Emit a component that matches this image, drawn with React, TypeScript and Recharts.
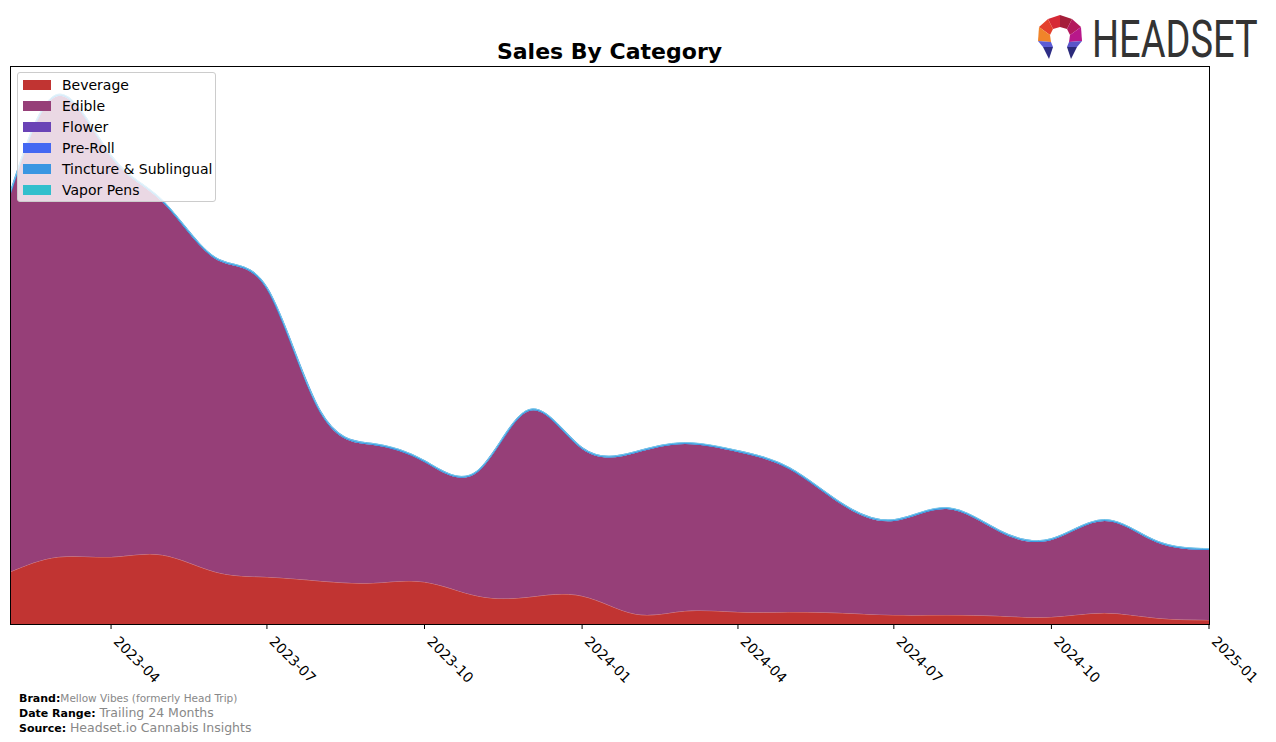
import React from 'react';
import { AreaChart, Area, XAxis, YAxis } from 'recharts';

// monthly points, first of each month
const months = [
  '2023-02', '2023-03', '2023-04', '2023-05', '2023-06', '2023-07',
  '2023-08', '2023-09', '2023-10', '2023-11', '2023-12', '2024-01',
  '2024-02', '2024-03', '2024-04', '2024-05', '2024-06', '2024-07',
  '2024-08', '2024-09', '2024-10', '2024-11', '2024-12', '2025-01',
];

const beverage = [
  5200, 6700, 6700, 6900, 5200, 4700, 4300, 4100, 4200, 2800, 2700, 2800,
  1000, 1300, 1200, 1200, 1100, 900, 900, 800, 700, 1100, 600, 400,
];
const edible = [
  37700, 46100, 40000, 35300, 31300, 28800, 16900, 13800, 12000, 12400, 18600, 14700,
  16100, 16700, 16000, 14300, 10800, 9400, 10600, 8400, 7700, 9200, 7600, 7000,
];
const tincture = [
  120, 120, 110, 110, 100, 100, 100, 100, 90, 90, 100, 90,
  90, 90, 90, 90, 90, 90, 90, 90, 90, 90, 90, 90,
];
const vaporPens = [
  60, 60, 60, 60, 50, 50, 50, 50, 50, 50, 50, 50,
  50, 50, 50, 50, 50, 50, 50, 50, 50, 50, 50, 50,
];

const tickLabels = ['2023-04', '2023-07', '2023-10', '2024-01', '2024-04', '2024-07', '2024-10', '2025-01'];

const categories = ['Beverage', 'Edible', 'Flower', 'Pre-Roll', 'Tincture & Sublingual', 'Vapor Pens'];
const COLORS = ['#c13432', '#963f78', '#6a43b6', '#4468f2', '#3a96e2', '#33bfcd'];

const toTime = (m: string) => Date.parse(m + '-01T00:00:00Z');

const data = months.map((m, i) => ({
  t: toTime(m),
  Beverage: beverage[i],
  Edible: edible[i],
  'Tincture & Sublingual': tincture[i],
  'Vapor Pens': vaporPens[i],
}));

const ticks = tickLabels.map(toTime);

const fmtMonth = (v: number) => {
  const d = new Date(v);
  return `${d.getUTCFullYear()}-${String(d.getUTCMonth() + 1).padStart(2, '0')}`;
};

const FONT = '"DejaVu Sans", sans-serif';

const RotatedTick = (props: any) => {
  const { x, y, payload } = props;
  const ax = x + 9;
  const ay = y + 4;
  return (
    <text
      x={ax}
      y={ay}
      transform={`rotate(45 ${ax} ${ay})`}
      fontSize={14}
      fontFamily={FONT}
      fill="#000"
      dominantBaseline="hanging"
      textAnchor="start"
    >
      {fmtMonth(payload.value)}
    </text>
  );
};

const LegendBox = () => (
  <div
    style={{
      position: 'absolute',
      left: 17,
      top: 72,
      width: 199,
      height: 130,
      boxSizing: 'border-box',
      background: 'rgba(255,255,255,0.8)',
      border: '1px solid #cccccc',
      borderRadius: 3,
      padding: '1px 0 0 5px',
      fontFamily: FONT,
      fontSize: 14,
      color: '#000',
    }}
  >
    {categories.map((c, i) => (
      <div key={c} style={{ display: 'flex', alignItems: 'center', height: 21 }}>
        <span style={{ display: 'inline-block', width: 28, height: 10, background: COLORS[i], marginRight: 11 }} />
        <span>{c}</span>
      </div>
    ))}
  </div>
);

const Logo = () => (
  <svg width={246} height={80} style={{ position: 'absolute', left: 1030, top: 0 }}>
    <g transform="translate(7,14)">
      <polygon points="23,1 23,13 16,15 11,5" fill="#d62a36" />
      <polygon points="23,1 35,5 30,15 23,13" fill="#a41e3a" />
      <polygon points="11,5 16,15 13,21 2,13" fill="#e4402c" />
      <polygon points="2,13 13,21 14,28 1,27" fill="#f0842a" />
      <polygon points="35,5 44,13 33,21 30,15" fill="#b31a5e" />
      <polygon points="44,13 45,27 32,28 33,21" fill="#b8188a" />
      <polygon points="1,27 14,28 16,33 6,33" fill="#5c5cd6" />
      <polygon points="6,33 16,33 12,45" fill="#2e2d86" />
      <polygon points="45,27 32,28 30,33 40,33" fill="#5a55c8" />
      <polygon points="40,33 30,33 34,45" fill="#2b2a7a" />
    </g>
    <text
      transform="translate(62,57) scale(1,1.37)"
      fontSize={38}
      fontFamily='Roboto, "DejaVu Sans", sans-serif'
      fill="#333333"
    >
      HEADSET
    </text>
  </svg>
);

const App: React.FC = () => {
  return (
    <div style={{ position: 'absolute', left: 0, top: 0, width: 1276, height: 742, background: '#fff', fontFamily: FONT }}>
      <div
        style={{
          position: 'absolute',
          left: 0,
          width: 1219,
          top: 39,
          textAlign: 'center',
          fontSize: 22,
          fontWeight: 'bold',
          lineHeight: '26px',
        }}
      >
        Sales By Category
      </div>
      <AreaChart width={1276} height={742} data={data} margin={{ top: 66, right: 67, left: 10, bottom: 78 }}>
        <XAxis
          dataKey="t"
          type="number"
          scale="time"
          domain={[toTime(months[0]), toTime(months[months.length - 1])]}
          ticks={ticks}
          tick={<RotatedTick />}
          tickSize={5}
          tickMargin={2}
          axisLine={false}
          tickLine={{ stroke: '#000' }}
          height={40}
          interval={0}
          allowDataOverflow
        />
        <YAxis hide domain={[0, 55800]} allowDataOverflow />
        <Area type="natural" dataKey="Beverage" stackId="a" fill={COLORS[0]} fillOpacity={1} stroke="#d98a8c" strokeWidth={0.8} isAnimationActive={false} />
        <Area type="natural" dataKey="Edible" stackId="a" fill={COLORS[1]} fillOpacity={1} stroke="none" isAnimationActive={false} />
        <Area type="natural" dataKey="Tincture & Sublingual" stackId="a" fill={COLORS[4]} fillOpacity={1} stroke="#3a96e2" strokeWidth={1.8} isAnimationActive={false} />
        <Area type="natural" dataKey="Vapor Pens" stackId="a" fill={COLORS[5]} fillOpacity={0.6} stroke="#7cc8ec" strokeWidth={1} isAnimationActive={false} />
      </AreaChart>
      <LegendBox />
      <div
        style={{
          position: 'absolute',
          left: 10,
          top: 66,
          width: 1200,
          height: 559,
          boxSizing: 'border-box',
          border: '1px solid #000',
          pointerEvents: 'none',
        }}
      />
      <Logo />
      <div style={{ position: 'absolute', left: 19, top: 691, fontSize: 11, lineHeight: '14px', color: '#000' }}>
        <div>
          <b>Brand:</b>
          <span style={{ color: '#888', fontSize: 10.5 }}>Mellow Vibes (formerly Head Trip)</span>
        </div>
        <div>
          <b>Date Range: </b>
          <span style={{ color: '#888', fontSize: 12.5 }}>Trailing 24 Months</span>
        </div>
        <div>
          <b>Source: </b>
          <span style={{ color: '#888', fontSize: 12.5 }}>Headset.io Cannabis Insights</span>
        </div>
      </div>
    </div>
  );
};

export default App;
